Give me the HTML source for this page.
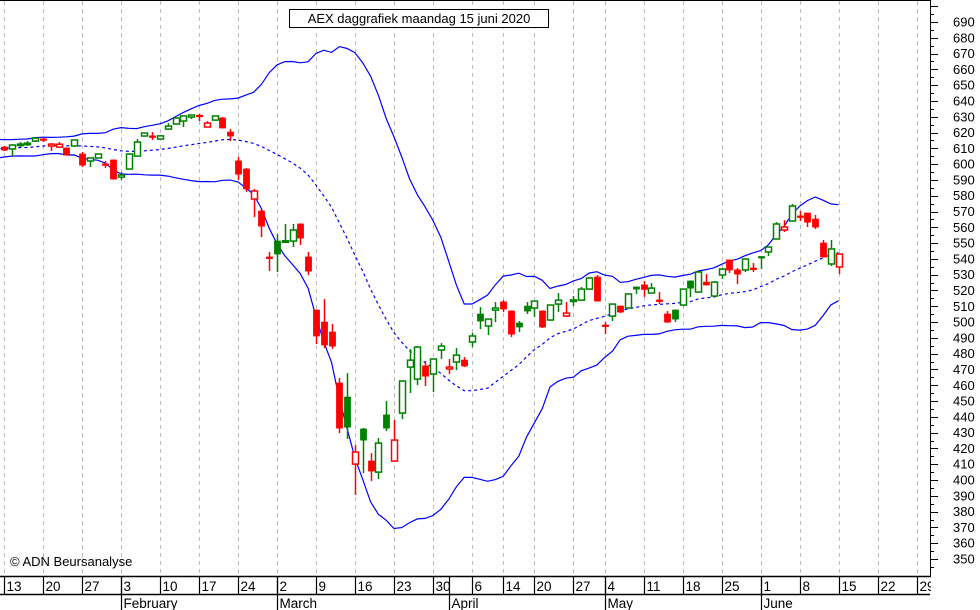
<!DOCTYPE html>
<html><head><meta charset="utf-8"><style>
body{margin:0;background:#fff;}
svg{display:block;font-family:"Liberation Sans",sans-serif;}
</style></head><body>
<svg id="chart" width="980" height="610" viewBox="0 0 980 610" xmlns="http://www.w3.org/2000/svg">
<rect x="0" y="0" width="980" height="610" fill="#fff"/>
<g id="grid"></g>
<g id="bands"></g>
<g id="candles"></g>
<g id="yaxis"></g>
<g id="xaxis"></g>
<line x1="0" y1="0.5" x2="930" y2="0.5" stroke="#000"/>
<g>
<rect x="289.5" y="9.5" width="259" height="18" fill="#fff" stroke="#000"/>
<text x="419" y="23" text-anchor="middle" font-size="13" fill="#000">AEX daggrafiek maandag 15 juni 2020</text>
</g>
<text x="10" y="566" font-size="13" fill="#000">© ADN Beursanalyse</text>
</svg>
<script>
const preCloses = [608,604,606,609,612,608,605,607,611,613,610,606,608,612,614,611,609,613,615,612,610];
const opens = [610.8,609.6,612.1,612.9,614.6,616.0,611.5,610.8,610.2,611.5,606.4,602.0,603.9,600.2,602.6,591.8,596.9,605.1,617.8,617.9,615.9,622.2,625.4,627.3,629.8,631.0,623.5,627.9,629.2,620.3,602.0,596.9,577.9,570.3,541.2,551.3,551.2,551.3,562.1,541.2,507.6,500.0,493.7,461.4,452.5,410.1,432.3,412.0,405.0,441.2,412.0,442.4,471.5,463.9,472.2,467.1,482.3,470.3,474.7,475.9,487.4,505.1,497.5,507.6,512.7,507.0,499.4,510.1,508.9,507.0,501.3,511.4,503.8,513.7,513.9,520.9,528.5,498.1,503.8,510.1,508.9,522.2,523.5,518.4,514.0,505.1,507.6,510.8,526.0,519.0,525.3,516.5,529.8,539.3,533.0,533.0,534.2,541.5,544.4,552.6,558.3,564.0,567.2,569.0,565.2,550.0,536.8,534.9];
const highs = [611.5,612.7,614.0,614.6,617.0,616.5,613.3,614.0,610.5,615.6,607.7,604.2,606.8,602.0,603.0,595.0,607.0,615.9,620.0,620.3,618.3,626.0,629.6,630.8,631.2,631.7,627.3,630.8,629.8,622.2,604.5,597.5,584.3,571.6,544.4,555.7,562.1,562.1,562.5,544.4,508.0,514.6,498.8,464.6,467.7,422.1,433.0,417.1,426.6,450.0,438.0,463.2,482.9,484.8,475.3,477.0,486.7,476.6,483.6,477.9,493.1,509.5,502.3,512.7,513.9,507.5,500.7,512.7,513.6,507.5,511.2,518.4,512.7,516.5,522.2,528.5,529.8,500.0,511.8,510.5,518.2,522.6,526.0,524.7,519.0,507.0,508.0,521.3,526.4,532.1,530.4,526.0,534.2,539.5,534.2,540.3,537.4,541.6,547.9,563.3,564.6,574.8,570.3,569.4,567.8,552.0,552.0,543.5];
const lows = [608.3,605.1,610.8,611.5,614.0,614.0,608.3,610.5,605.5,611.0,598.2,598.2,603.6,597.6,590.2,590.0,596.5,604.8,617.4,615.3,615.5,621.8,625.0,623.5,628.6,627.3,623.2,627.6,622.6,614.6,590.0,582.4,566.5,553.8,532.3,531.7,550.0,547.5,548.8,529.8,486.1,483.6,483.0,429.7,426.0,390.5,404.4,399.4,400.6,431.0,411.5,438.6,455.1,460.1,459.5,455.7,476.6,467.1,469.6,471.5,484.2,495.6,491.8,500.0,506.4,490.5,493.7,505.1,503.2,496.3,500.9,506.4,503.2,510.1,513.5,520.5,513.0,492.4,500.7,505.7,508.5,517.8,515.9,518.0,511.4,499.5,500.0,510.1,515.9,518.6,523.1,516.1,527.3,531.1,524.1,531.7,531.7,533.6,541.8,552.2,557.0,563.6,564.0,560.2,558.9,540.8,535.5,530.4];
const closes = [608.9,612.1,612.7,613.3,616.5,615.9,612.7,612.6,605.8,615.3,599.4,603.9,606.4,600.0,590.6,593.1,606.4,614.0,619.7,617.7,617.9,624.1,629.2,630.5,631.1,630.5,626.0,630.5,622.9,617.8,593.7,584.3,583.0,560.8,540.8,543.1,551.5,558.3,553.2,532.3,491.2,485.5,484.8,432.9,433.5,417.7,425.3,405.7,423.4,432.9,425.3,462.7,475.9,484.2,465.8,476.6,484.8,471.5,479.1,472.2,491.2,500.7,501.9,508.9,508.3,492.4,496.9,507.0,513.3,496.9,510.8,513.9,505.7,514.0,520.9,527.9,513.3,498.0,511.4,506.4,517.8,520.9,520.7,521.5,513.9,500.0,501.9,520.9,521.5,531.7,523.5,525.3,533.6,533.0,530.4,539.9,534.1,541.2,547.5,562.1,560.2,573.5,567.1,563.3,560.2,541.2,546.3,543.1];
const dateLabels = ['13','20','27','3','10','17','24','2','9','16','23','30','6','14','20','27','4','11','18','25','1','8','15','22','29'];
const dateIndex = [0,5,10,15,20,25,30,35,40,45,50,55,60,64,68,73,77,82,87,92,97,102,107,112,117];
const monthLabels = ['February','March','April','May','June'];
const monthIndex = [15,35,57,77,97];
const priceTicks = [690,680,670,660,650,640,630,620,610,600,590,580,570,560,550,540,530,520,510,500,490,480,470,460,450,440,430,420,410,400,390,380,370,360,350];

const NS = 'http://www.w3.org/2000/svg';
const PLOT_R = 930, AXIS_Y = 576;
function xOf(i){ return 4 + i*7.8; }
function yOf(p){ return 22 + (690-p)*1.5794; }
function mk(tag, attrs, parent){ const e=document.createElementNS(NS,tag); for(const k in attrs) e.setAttribute(k,attrs[k]); parent.appendChild(e); return e; }

// gridlines
const grid=document.getElementById('grid');
dateIndex.forEach(function(di){
  const x=Math.round(xOf(di))+0.5;
  if(x>PLOT_R) return;
  const l=mk('line',{x1:x,y1:1,x2:x,y2:AXIS_Y,stroke:'#bbb','stroke-dasharray':'4,4'},grid);
  
  
});

// bollinger bands
const all = preCloses.concat(closes);
const off = preCloses.length;
let up=[],mid=[],lo=[];
for(let k=19;k<all.length;k++){
  const w=all.slice(k-19,k+1);
  const m=w.reduce((a,b)=>a+b,0)/20;
  const sd=Math.sqrt(w.reduce((a,b)=>a+(b-m)*(b-m),0)/20);
  const x=xOf(k-off).toFixed(1);
  up.push(x+','+yOf(m+2*sd).toFixed(1));
  mid.push(x+','+yOf(m).toFixed(1));
  lo.push(x+','+yOf(m-2*sd).toFixed(1));
}
const bands=document.getElementById('bands');
const bu=mk('polyline',{points:up.join(' '),fill:'none',stroke:'#0000ff','stroke-width':1.2},bands);


const bm=mk('polyline',{points:mid.join(' '),fill:'none',stroke:'#0000ff','stroke-width':1.2,'stroke-dasharray':'3,3'},bands);


const bl=mk('polyline',{points:lo.join(' '),fill:'none',stroke:'#0000ff','stroke-width':1.2},bands);



// candles
const cg=document.getElementById('candles');
for(let i=0;i<closes.length;i++){
  const prev = i>0 ? closes[i-1] : preCloses[preCloses.length-1];
  const col = closes[i]>=prev ? '#008000' : '#ff0000';
  const x=Math.round(xOf(i));
  const g=mk('g',{},cg);
  
  
  const w=mk('line',{x1:x+0.5,x2:x+0.5,y1:yOf(highs[i]),y2:yOf(lows[i]),stroke:col,'stroke-width':1.5},g);
  
  
  const top=yOf(Math.max(opens[i],closes[i])), bot=yOf(Math.min(opens[i],closes[i]));
  const h=Math.max(1.5,bot-top);
  const hollow = closes[i]>opens[i];
  const b=mk('rect',{x:x-2.5,y:top,width:6,height:h,fill:hollow?'#fff':col,stroke:col,'stroke-width':hollow?1.5:0.8},g);
  
  
}

// y axis
const ya=document.getElementById('yaxis');
const ax=mk('line',{x1:PLOT_R+0.5,y1:0,x2:PLOT_R+0.5,y2:AXIS_Y,stroke:'#000'},ya);


for(let p=700;p>=345;p-=5){
  const y=Math.round(yOf(p))+0.5;
  if(y>AXIS_Y) continue;
  const major=(p%10===0);
  const t=mk('line',{x1:PLOT_R,y1:y,x2:PLOT_R+(major?8:4),y2:y,stroke:'#000'},ya);
  
  
}
priceTicks.forEach(function(p){
  const t=mk('text',{x:953,y:yOf(p)+4.5,'font-size':13,fill:'#000'},ya);
  t.textContent=String(p);
  
  
});

// x axis
const xa=document.getElementById('xaxis');
const l1=mk('line',{x1:0,y1:AXIS_Y+0.5,x2:PLOT_R+1,y2:AXIS_Y+0.5,stroke:'#000','stroke-width':1.5},xa);


const l2=mk('line',{x1:0,y1:594.5,x2:PLOT_R,y2:594.5,stroke:'#000','stroke-width':1.5},xa);


dateIndex.forEach(function(di,k){
  const x=Math.round(xOf(di))+0.5;
  if(x>PLOT_R) return;
  const s=mk('line',{x1:x,y1:AXIS_Y,x2:x,y2:594,stroke:'#000','stroke-width':1.2},xa);
  
  
  const t=mk('text',{x:x+2,y:591,'font-size':13.5,fill:'#000'},xa);
  t.textContent=dateLabels[k];
  
  
});
const clipR=mk('rect',{x:PLOT_R+1,y:577,width:50,height:33,fill:'#fff'},xa);


monthIndex.forEach(function(mi,k){
  const x=Math.round(xOf(mi))+0.5;
  const s=mk('line',{x1:x,y1:AXIS_Y,x2:x,y2:610,stroke:'#000','stroke-width':1.2},xa);
  
  
  const t=mk('text',{x:x+2,y:608,'font-size':13.5,fill:'#000'},xa);
  t.textContent=monthLabels[k];
  
  
});
</script>
</body></html>
